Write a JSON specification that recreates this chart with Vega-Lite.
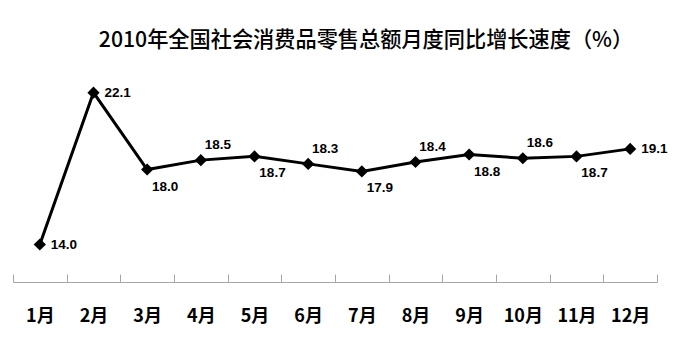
{
  "$schema": "https://vega.github.io/schema/vega-lite/v6.json",
  "width": 644,
  "height": 225,
  "autosize": "none",
  "padding": {"left": 13, "top": 57, "right": 43, "bottom": 57},
  "background": "white",
  "config": {"view": {"stroke": null}},
  "title": {
    "text": "2010年全国社会消费品零售总额月度同比增长速度（%）",
    "font": "Noto Sans CJK SC",
    "fontSize": 21.2,
    "fontWeight": 500,
    "color": "#000000",
    "anchor": "middle",
    "dx": 31,
    "dy": 20,
    "offset": 9,
    "baseline": "alphabetic"
  },
  "data": {
    "values": [
      {"month": "1月", "value": 14.0},
      {"month": "2月", "value": 22.1},
      {"month": "3月", "value": 18.0},
      {"month": "4月", "value": 18.5},
      {"month": "5月", "value": 18.7},
      {"month": "6月", "value": 18.3},
      {"month": "7月", "value": 17.9},
      {"month": "8月", "value": 18.4},
      {"month": "9月", "value": 18.8},
      {"month": "10月", "value": 18.6},
      {"month": "11月", "value": 18.7},
      {"month": "12月", "value": 19.1}
    ]
  },
  "encoding": {
    "x": {
      "field": "month",
      "type": "ordinal",
      "sort": null,
      "scale": {"type": "band", "paddingInner": 0, "paddingOuter": 0},
      "axis": {
        "title": null,
        "labelAngle": 0,
        "domainColor": "#a6a6a6",
        "tickColor": "#a6a6a6",
        "tickSize": -8,
        "tickBand": "extent",
        "labelFont": "Noto Sans CJK SC",
        "labelFontSize": 18,
        "labelFontWeight": "bold",
        "labelColor": "#000000",
        "labelBaseline": "middle",
        "labelPadding": 42,
        "grid": false
      }
    },
    "y": {
      "field": "value",
      "type": "quantitative",
      "scale": {"domain": [12, 24], "nice": false, "zero": false},
      "axis": null
    }
  },
  "layer": [
    {"mark": {"type": "line", "color": "#000000", "strokeWidth": 3}},
    {"mark": {"type": "point", "shape": "diamond", "filled": true, "color": "#000000", "size": 150, "opacity": 1}},
    {
      "transform": [{"filter": {"field": "month", "oneOf": ["1月", "2月", "12月"]}}],
      "mark": {"type": "text", "align": "left", "baseline": "middle", "dx": 11, "dy": 0, "font": "Liberation Sans", "fontSize": 13.5, "fontWeight": "bold", "color": "#000000"},
      "encoding": {"text": {"field": "value", "type": "quantitative", "format": ".1f"}}
    },
    {
      "transform": [{"filter": {"field": "month", "oneOf": ["4月", "6月", "8月", "10月"]}}],
      "mark": {"type": "text", "align": "center", "baseline": "middle", "dx": 17, "dy": -15, "font": "Liberation Sans", "fontSize": 13.5, "fontWeight": "bold", "color": "#000000"},
      "encoding": {"text": {"field": "value", "type": "quantitative", "format": ".1f"}}
    },
    {
      "transform": [{"filter": {"field": "month", "oneOf": ["3月", "5月", "7月", "9月", "11月"]}}],
      "mark": {"type": "text", "align": "center", "baseline": "middle", "dx": 18, "dy": 17, "font": "Liberation Sans", "fontSize": 13.5, "fontWeight": "bold", "color": "#000000"},
      "encoding": {"text": {"field": "value", "type": "quantitative", "format": ".1f"}}
    }
  ]
}
